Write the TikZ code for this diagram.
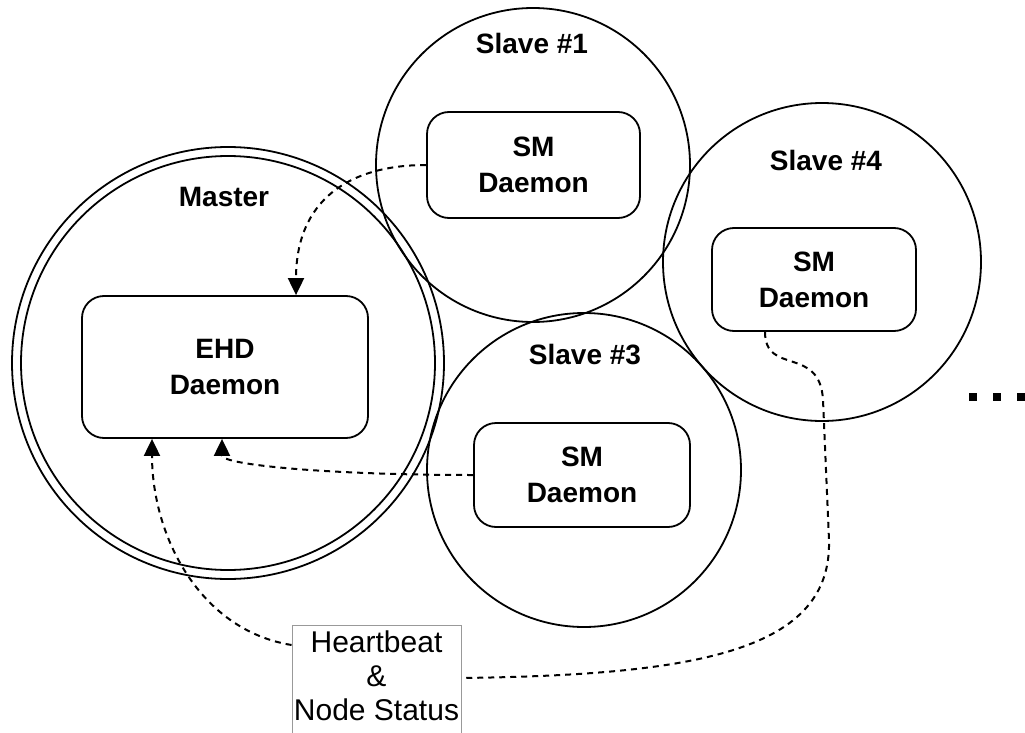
\documentclass[tikz,border=0pt]{standalone}
\usepackage{fontspec}
\setmainfont{Liberation Sans}
\usetikzlibrary{arrows.meta}
\begin{document}
\begin{tikzpicture}[x=1pt,y=-1pt,
  ring/.style={circle, draw, line width=1.8pt, inner sep=0pt, minimum size=#1},
  daemon/.style={draw, rounded corners=22pt, line width=1.8pt, align=center,
    inner sep=0pt, font=\bfseries\fontsize{28}{36}\selectfont},
  tag/.style={inner sep=0pt, font=\bfseries\fontsize{28}{34}\selectfont},
  link/.style={dash pattern=on 6pt off 5pt, line width=2pt},
  arrowed/.style={-{Triangle[length=17pt,width=16pt]}},
  dot/.style={fill, inner sep=0pt, minimum size=8pt}
]
\path[use as bounding box] (0,0) rectangle (1025,733);
\clip (0,0) rectangle (1025,733);

% machines
\node[ring=432pt] (masterOuter) at (228,363) {};
\node[ring=414pt] (masterInner) at (228,363) {};
\node[ring=314pt] (slaveA) at (533,165) {};
\node[ring=318pt] (slaveD) at (822,262) {};
\node[ring=314pt] (slaveC) at (584,470) {};

% machine titles
\node[tag] (masterTag) at (224,197) {Master};
\node[tag] (slaveATag) at (532,43) {Slave \#1};
\node[tag] (slaveDTag) at (826,160) {Slave \#4};
\node[tag] (slaveCTag) at (585,355) {Slave \#3};

% daemons
\node[daemon, minimum width=286pt, minimum height=142pt] (ehd) at (225,367) {EHD\\Daemon};
\node[daemon, minimum width=213pt, minimum height=106pt] (smA) at (533.5,165) {SM\\Daemon};
\node[daemon, minimum width=204pt, minimum height=103pt] (smD) at (814,279.5) {SM\\Daemon};
\node[daemon, minimum width=216pt, minimum height=104pt] (smC) at (582,475) {SM\\Daemon};

% message legend
\node[draw=black!40, line width=0.8pt, anchor=north, align=center,
  minimum width=169pt, inner xsep=2pt, inner ysep=5pt, text depth=30pt,
  font=\fontsize{30}{34}\selectfont] (hb) at (376.5,625)
  {Heartbeat\\\&\\Node Status};

% more slaves
\node[dot] (dotA) at (973,396.5) {};
\node[dot] (dotB) at (997,396.5) {};
\node[dot] (dotC) at (1021,396.5) {};

% reports to the master
\draw[link, arrowed] (smA.west) .. controls +(-77,0) and +(0,-95) .. ([xshift=71pt]ehd.north);
\draw[link, arrowed] (smC.west) .. controls +(-144,0) and +(0,26) .. ([xshift=-3pt]ehd.south);
\draw[link, arrowed] ([yshift=-20pt]hb.north west) .. controls +(-92,-15) and +(0,97) .. ([xshift=-73pt]ehd.south);
\draw[link] ([xshift=-49pt]smD.south) .. controls +(0,44) and +(-3,-55) .. (823,400)
  -- (829,540) .. controls +(3,110) and +(239,-3) .. ([yshift=-53pt]hb.north east);
\end{tikzpicture}
\end{document}
